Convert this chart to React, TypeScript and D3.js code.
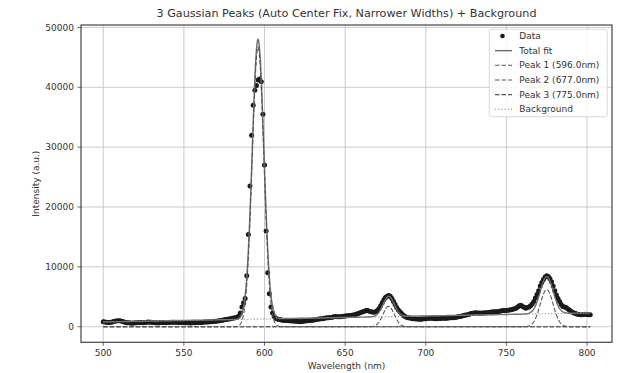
import React from 'react';
import * as d3 from 'd3';

// Spectrum with a three-Gaussian fit on a linear background.
const chartTitle = '3 Gaussian Peaks (Auto Center Fix, Narrower Widths) + Background';
const xLabel = 'Wavelength (nm)';
const yLabel = 'Intensity (a.u.)';

// Measured spectrum, one sample per nm starting at 500 nm.
const wavelengthStart = 500;
const wavelengthStep = 1;
const intensity = [
  850, 800, 750, 720, 700, 750, 820, 900, 950, 1000,
  1000, 950, 880, 800, 720, 680, 650, 620, 600, 620,
  650, 680, 700, 720, 700, 680, 700, 750, 780, 760,
  740, 700, 660, 650, 640, 660, 700, 720, 700, 680,
  700, 720, 750, 760, 740, 750, 720, 700, 690, 700,
  700, 680, 660, 650, 640, 650, 660, 680, 700, 720,
  700, 720, 750, 780, 800, 800, 820, 850, 880, 900,
  920, 950, 1000, 1050, 1100, 1150, 1200, 1250, 1300, 1350,
  1400, 1450, 1500, 1600, 1800, 2300, 3300, 4000, 4700, 8500,
  15400, 23500, 32000, 37000, 39500, 40300, 41200, 41400, 40900, 35500,
  27000, 16000, 9000, 5500, 3300, 2300, 1700, 1400, 1300, 1200,
  1150, 1100, 1100, 1050, 1050, 1000, 1000, 950, 950, 900,
  900, 880, 850, 870, 900, 950, 1000, 1020, 1050, 1080,
  1100, 1150, 1200, 1250, 1300, 1320, 1350, 1400, 1450, 1480,
  1500, 1550, 1600, 1650, 1700, 1680, 1650, 1680, 1700, 1750,
  1800, 1820, 1850, 1880, 1900, 1950, 2000, 2100, 2200, 2300,
  2400, 2500, 2600, 2700, 2700, 2600, 2500, 2450, 2400, 2500,
  2700, 3000, 3500, 4000, 4500, 4900, 5100, 5200, 5100, 4700,
  4200, 3700, 3200, 2800, 2500, 2200, 1900, 1750, 1600, 1500,
  1450, 1400, 1350, 1320, 1300, 1280, 1250, 1270, 1300, 1320,
  1350, 1380, 1400, 1420, 1400, 1380, 1350, 1350, 1360, 1380,
  1400, 1400, 1400, 1420, 1450, 1480, 1500, 1520, 1550, 1600,
  1650, 1700, 1750, 1820, 1900, 1950, 2000, 2100, 2200, 2250,
  2300, 2320, 2300, 2280, 2250, 2280, 2300, 2320, 2350, 2380,
  2400, 2450, 2500, 2500, 2500, 2550, 2600, 2650, 2700, 2700,
  2700, 2750, 2800, 2850, 2900, 3000, 3100, 3300, 3500, 3600,
  3400, 3250, 3100, 3200, 3300, 3500, 3800, 4200, 4800, 5400,
  6000, 6800, 7400, 7900, 8300, 8500, 8400, 8000, 7500, 6800,
  6000, 5300, 4700, 4200, 3700, 3400, 3300, 3200, 3000, 2800,
  2600, 2400, 2300, 2200, 2100, 2050, 2000, 2000, 2050, 2100,
  2050, 2000, 2000,
];

// Fitted model parameters.
const peakCenters = [596.0, 677.0, 775.0];
const peakAmplitudes = [46700, 3400, 6200];
const peakSigmas = [3.6, 3.5, 4.0];
// Linear background: value at 500 nm, slope per nm.
const backgroundCoeffs = [800, 5];

const xTicks = [500, 550, 600, 650, 700, 750, 800];
const yTicks = [0, 10000, 20000, 30000, 40000, 50000];
const legendLabels = ['Data', 'Total fit', 'Peak 1 (596.0nm)', 'Peak 2 (677.0nm)', 'Peak 3 (775.0nm)', 'Background'];

const W = 624;
const H = 373;
const plot = { left: 81, right: 612, top: 25, bottom: 342.3 };
const FONT = 'DejaVu Sans, sans-serif';
const TEXT = '#333';

const gaussian = (x: number, i: number) =>
  peakAmplitudes[i] * Math.exp(-((x - peakCenters[i]) ** 2) / (2 * peakSigmas[i] ** 2));
const background = (x: number) => backgroundCoeffs[0] + backgroundCoeffs[1] * (x - wavelengthStart);

export default function App() {
  const x = d3.scaleLinear().domain([486.2, 815.5]).range([plot.left, plot.right]);
  const y = d3.scaleLinear().domain([-2600, 50400]).range([plot.bottom, plot.top]);

  const points = intensity.map((v, i) => ({ w: wavelengthStart + i * wavelengthStep, v }));
  const wMin = wavelengthStart;
  const wMax = wavelengthStart + (intensity.length - 1) * wavelengthStep;
  const grid = d3.range(wMin, wMax + 0.001, 0.2);

  const line = d3
    .line<[number, number]>()
    .x((d) => x(d[0]))
    .y((d) => y(d[1]));

  const totalPath = line(
    grid.map((w) => [w, background(w) + peakCenters.reduce((s, _, i) => s + gaussian(w, i), 0)])
  );
  const peakPaths = peakCenters.map((_, i) => line(grid.map((w) => [w, gaussian(w, i)])));
  const bgPath = line(grid.map((w) => [w, background(w)]));

  const fitColor = '#6b6b6b';
  const peakColor = '#555';
  const bgColor = '#8a8a8a';

  const legend = { x: 489.3, y: 29.3, w: 118, h: 87.4 };
  const rowY = (i: number) => 36 + i * 14.65;

  return (
    <svg width={W} height={H} style={{ position: 'absolute', left: 0, top: 0, background: '#fff' }} fontFamily={FONT}>
      <defs>
        <clipPath id="plot-area">
          <rect x={plot.left} y={plot.top} width={plot.right - plot.left} height={plot.bottom - plot.top} />
        </clipPath>
      </defs>

      {/* grid */}
      <g stroke="#c4c4c4" strokeWidth={0.9}>
        {xTicks.map((t) => (
          <line key={`gx${t}`} x1={x(t)} x2={x(t)} y1={plot.top} y2={plot.bottom} />
        ))}
        {yTicks.map((t) => (
          <line key={`gy${t}`} x1={plot.left} x2={plot.right} y1={y(t)} y2={y(t)} />
        ))}
      </g>

      <g clipPath="url(#plot-area)">
        {/* data */}
        <g fill="#1a1a1a">
          {points.map((p, i) => (
            <circle key={i} cx={x(p.w)} cy={y(p.v)} r={2.5} />
          ))}
        </g>
        <path d={totalPath ?? ''} fill="none" stroke={fitColor} strokeWidth={1.4} />
        {peakPaths.map((d, i) => (
          <path key={i} d={d ?? ''} fill="none" stroke={peakColor} strokeWidth={1.1} strokeDasharray="4.5 2" />
        ))}
        <path d={bgPath ?? ''} fill="none" stroke={bgColor} strokeWidth={1.1} strokeDasharray="1.2 2" />
      </g>

      {/* frame */}
      <rect
        x={plot.left}
        y={plot.top}
        width={plot.right - plot.left}
        height={plot.bottom - plot.top}
        fill="none"
        stroke="#444"
        strokeWidth={1.2}
      />

      {/* x axis */}
      <g fontSize={9} fill={TEXT} textAnchor="middle">
        {xTicks.map((t) => (
          <g key={`xt${t}`}>
            <line x1={x(t)} x2={x(t)} y1={plot.bottom} y2={plot.bottom + 3.5} stroke="#444" strokeWidth={0.8} />
            <text x={x(t)} y={plot.bottom + 14}>{t}</text>
          </g>
        ))}
      </g>
      <text x={(plot.left + plot.right) / 2} y={369} fontSize={9} fill={TEXT} textAnchor="middle">
        {xLabel}
      </text>

      {/* y axis */}
      <g fontSize={9} fill={TEXT} textAnchor="end">
        {yTicks.map((t) => (
          <g key={`yt${t}`}>
            <line x1={plot.left - 3.5} x2={plot.left} y1={y(t)} y2={y(t)} stroke="#444" strokeWidth={0.8} />
            <text x={plot.left - 7} y={y(t)} dy="0.35em">{t}</text>
          </g>
        ))}
      </g>
      <text
        transform={`translate(36,${(plot.top + plot.bottom) / 2}) rotate(-90)`}
        fontSize={9}
        fill={TEXT}
        textAnchor="middle"
        dy="0.35em"
      >
        {yLabel}
      </text>

      {/* title */}
      <text x={(plot.left + plot.right) / 2} y={17} fontSize={11.2} fill={TEXT} textAnchor="middle">
        {chartTitle}
      </text>

      {/* legend */}
      <g>
        <rect x={legend.x} y={legend.y} width={legend.w} height={legend.h} rx={2} fill="#fff" fillOpacity={0.85} stroke="#d0d0d0" strokeWidth={0.8} />
        {legendLabels.map((label, i) => {
          const cy = rowY(i);
          let handle: React.ReactNode;
          if (i === 0) handle = <circle cx={502.5} cy={cy} r={2.3} fill="#1a1a1a" />;
          else if (i === 1) handle = <line x1={495} x2={512} y1={cy} y2={cy} stroke={fitColor} strokeWidth={1.4} />;
          else if (i < 5)
            handle = <line x1={495} x2={512} y1={cy} y2={cy} stroke={peakColor} strokeWidth={1.1} strokeDasharray="4.5 2" />;
          else handle = <line x1={495} x2={512} y1={cy} y2={cy} stroke={bgColor} strokeWidth={1.1} strokeDasharray="1.2 2" />;
          return (
            <g key={label}>
              {handle}
              <text x={519.3} y={cy} dy="0.35em" fontSize={9} fill={TEXT}>
                {label}
              </text>
            </g>
          );
        })}
      </g>
    </svg>
  );
}
